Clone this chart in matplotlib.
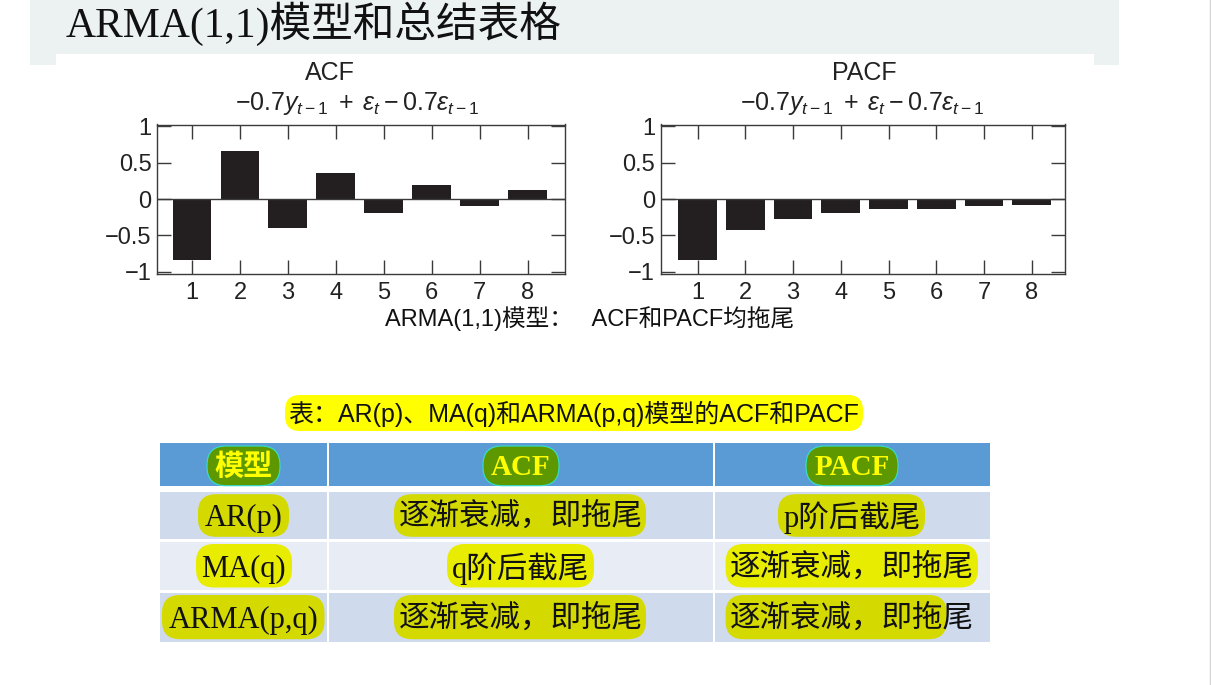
import matplotlib
matplotlib.use('Agg')
import matplotlib.pyplot as plt
from matplotlib.patches import Rectangle, FancyBboxPatch

# ---------------- data ----------------
lags = [1, 2, 3, 4, 5, 6, 7, 8]
acf_vals = [-0.84, 0.66, -0.40, 0.36, -0.19, 0.19, -0.09, 0.12]
pacf_vals = [-0.845, -0.43, -0.28, -0.19, -0.14, -0.14, -0.10, -0.08]
ytick_vals = [-1, -0.5, 0, 0.5, 1]
ytick_labels = ['\u22121', '\u22120.5', '0', '0.5', '1']
panel_titles = ['ACF', 'PACF']
formula = r'$-0.7y_{t-1}\;+\;\varepsilon_t-0.7\varepsilon_{t-1}$'
slide_title = 'ARMA(1,1)模型和总结表格'
chart_caption = 'ARMA(1,1)模型：   ACF和PACF均拖尾'
table_caption = '表：AR(p)、MA(q)和ARMA(p,q)模型的ACF和PACF'
table_header = ['模型', 'ACF', 'PACF']
models = ['AR(p)', 'MA(q)', 'ARMA(p,q)']
acf_desc = ['逐渐衰减，即拖尾', 'q阶后截尾', '逐渐衰减，即拖尾']
pacf_desc = ['p阶后截尾', '逐渐衰减，即拖尾', '逐渐衰减，即拖尾']

plt.rcParams['font.family'] = ['Liberation Sans', 'Noto Sans CJK SC', 'DejaVu Sans']
plt.rcParams['mathtext.fontset'] = 'custom'
plt.rcParams['mathtext.rm'] = 'Liberation Sans'
plt.rcParams['mathtext.it'] = 'Liberation Sans:italic'

W, H = 1211, 685
fig = plt.figure(figsize=(W / 100, H / 100), dpi=100)
fig.patch.set_facecolor('white')


def rect(x0, y0, x1, y1):
    return [x0 / W, 1 - y1 / H, (x1 - x0) / W, (y1 - y0) / H]


bg = fig.add_axes([0, 0, 1, 1])
bg.set_xlim(0, W)
bg.set_ylim(H, 0)
bg.axis('off')

# slide title band
bg.add_patch(Rectangle((30, 0), 1089, 65, color='#ECF2F2', lw=0))
bg.add_patch(Rectangle((56, 54), 1038, 12, color='white', lw=0))
bg.plot([1209.5, 1209.5], [0, H], color='#D4D4D4', lw=1)
bg.text(66, 24, slide_title, fontsize=30, va='center', ha='left',
        family=['Liberation Serif', 'Noto Sans CJK SC'], color='#111111')

SERIF_CJK = ['Liberation Serif', 'Noto Sans CJK SC']


def panel(pos, vals, xlim, title, title_x, formula_x):
    ax = fig.add_axes(rect(*pos))
    ax.bar(lags, vals, width=0.81, color='#231F20', zorder=2)
    ax.axhline(0, color='#3a3a3a', lw=1.0, zorder=3)
    ax.set_xlim(*xlim)
    ax.set_ylim(-1.025, 1.025)
    ax.set_xticks(lags)
    ax.set_xticklabels([str(v) for v in lags])
    ax.set_yticks(ytick_vals)
    ax.set_yticklabels(ytick_labels)
    ax.tick_params(direction='in', length=10, width=1.0, color='#3a3a3a',
                   top=True, right=True, labelsize=17, pad=4, labelcolor='#222222')
    ax.tick_params(axis='x', pad=6)
    for s in ax.spines.values():
        s.set_color('#3a3a3a')
        s.set_linewidth(1.0)
    bg.text(title_x, 73, title, fontsize=18, ha='center', va='center', color='#222222')
    bg.text(formula_x, 103, formula, fontsize=18, ha='center', va='center', color='#222222')
    return ax


panel((157, 124.5, 565, 273.5), acf_vals, (0.27, 8.78), panel_titles[0], 330, 357)
panel((660.7, 124.5, 1065, 273.5), pacf_vals, (0.224, 8.70), panel_titles[1], 864, 862)

bg.text(385, 319, chart_caption, fontsize=17, ha='left', va='center',
        family=['Liberation Sans', 'Noto Sans CJK SC'], color='#111111')

# table caption
bg.add_patch(FancyBboxPatch((285, 395), 578, 36, boxstyle='round,pad=0,rounding_size=15',
                            fc='#FFFF00', ec='none'))
bg.text(574, 414, table_caption, fontsize=18, ha='center', va='center',
        family=['Liberation Sans', 'Noto Sans CJK SC'], color='#111111')

# table grid
cols = [(160, 327), (329, 713), (715, 990)]
rows = [(491.7, 539.3), (541.5, 590), (592.5, 641.7)]
row_colors = ['#CFDAED', '#E8ECF4', '#CFDAED']
hl_colors = ['#D4DA00', '#E8EC00', '#D4DA00']
for (x0, x1) in cols:
    bg.add_patch(Rectangle((x0, 442.7), x1 - x0, 43, color='#5B9BD5', lw=0))
    for (y0, y1), rc in zip(rows, row_colors):
        bg.add_patch(Rectangle((x0, y0), x1 - x0, y1 - y0, color=rc, lw=0))

# header highlights + text
header_hl = [(207, 280), (483, 559), (806, 898)]
header_cx = [243.5, 521, 852]
for (hx0, hx1), cx, lab in zip(header_hl, header_cx, table_header):
    bg.add_patch(FancyBboxPatch((hx0, 446), hx1 - hx0, 39.7, boxstyle='round,pad=0,rounding_size=19',
                                fc='#5E9800', ec='#33E0D0', lw=0.8))
    bg.text(cx, 467, lab, fontsize=21, fontweight='bold', ha='center', va='center',
            family=SERIF_CJK, color='#FFFF00')

# row highlights
model_hl = [(198, 289), (196, 292), (162, 324.5)]
acf_hl = [(394, 646), (447, 594), (394, 646)]
pacf_hl = [(778, 925), (725.6, 978), (725.6, 946.7)]
row_cy = [518, 569, 620]
for i in range(3):
    y0, y1 = rows[i]
    for (hx0, hx1) in (model_hl[i], acf_hl[i], pacf_hl[i]):
        bg.add_patch(FancyBboxPatch((hx0, y0 + 2.5), hx1 - hx0, (y1 - y0) - 5,
                                    boxstyle='round,pad=0,rounding_size=18',
                                    fc=hl_colors[i], ec='none'))
    bg.text(243.5, row_cy[i], models[i], fontsize=22, ha='center', va='center',
            family=SERIF_CJK, color='#111111')
    bg.text(520.5, row_cy[i], acf_desc[i], fontsize=22, ha='center', va='center',
            family=SERIF_CJK, color='#111111')
    bg.text(852, row_cy[i], pacf_desc[i], fontsize=22, ha='center', va='center',
            family=SERIF_CJK, color='#111111')

fig.savefig('out.png', dpi=100, facecolor='white')
